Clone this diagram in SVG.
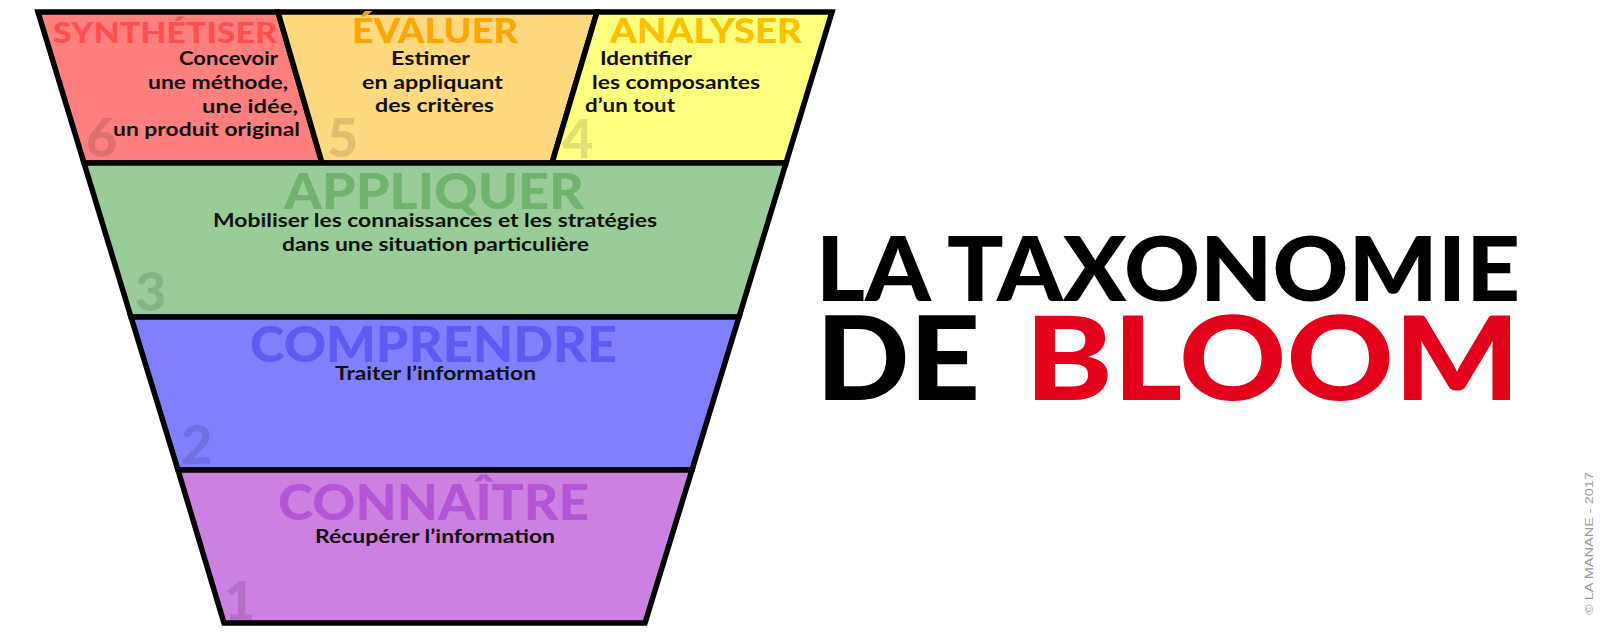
<svg xmlns="http://www.w3.org/2000/svg" width="1600" height="636" viewBox="0 0 1600 636">
<style>
.lay{stroke:#000;stroke-width:5.5;stroke-linejoin:miter}
.hd{font-family:Lato,"Liberation Sans",sans-serif;font-weight:900}
.bd{font-family:Lato,"Liberation Sans",sans-serif;font-weight:700;font-size:18px;fill:#111}
.num{font-family:Lato,"Liberation Sans",sans-serif;font-weight:900;font-size:54px;fill:#000;fill-opacity:0.12}
.ttl{font-family:Lato,"Liberation Sans",sans-serif;font-weight:900}
</style>
<rect width="1600" height="636" fill="#fff"/>
<g id="synthetiser">
<polygon class="lay" points="38,12 278,12 322,163 84,163" fill="#ff7f7f"/>
<text class="num" x="86" y="157">6</text>
<text class="hd" x="53" y="43" font-size="28" fill="#ff4f4f" textLength="224" lengthAdjust="spacingAndGlyphs">SYNTHÉTISER</text>
<g class="bd" text-anchor="end">
<text x="278" y="65" textLength="99" lengthAdjust="spacingAndGlyphs">Concevoir</text>
<text x="288" y="89" textLength="140" lengthAdjust="spacingAndGlyphs">une méthode,</text>
<text x="298" y="113" textLength="96" lengthAdjust="spacingAndGlyphs">une idée,</text>
<text x="300" y="136" textLength="187" lengthAdjust="spacingAndGlyphs">un produit original</text>
</g>
</g>
<g id="evaluer">
<polygon class="lay" points="278,12 597,12 552,163 322,163" fill="#ffd980"/>
<text class="num" x="327" y="157">5</text>
<text class="hd" x="352" y="43" font-size="34" fill="#ffa500" textLength="166" lengthAdjust="spacingAndGlyphs">ÉVALUER</text>
<g class="bd">
<text x="391" y="65" textLength="79" lengthAdjust="spacingAndGlyphs">Estimer</text>
<text x="362" y="89" textLength="141" lengthAdjust="spacingAndGlyphs">en appliquant</text>
<text x="375" y="112" textLength="119" lengthAdjust="spacingAndGlyphs">des critères</text>
</g>
</g>
<g id="analyser">
<polygon class="lay" points="597,12 832,12 786,163 552,163" fill="#ffff80"/>
<text class="num" x="562" y="158">4</text>
<text class="hd" x="610" y="43" font-size="34" fill="#ffc000" textLength="192" lengthAdjust="spacingAndGlyphs">ANALYSER</text>
<g class="bd">
<text x="600" y="65" textLength="92" lengthAdjust="spacingAndGlyphs">Identifier</text>
<text x="592" y="89" textLength="168" lengthAdjust="spacingAndGlyphs">les composantes</text>
<text x="585" y="112" textLength="90" lengthAdjust="spacingAndGlyphs">d’un tout</text>
</g>
</g>
<g id="appliquer">
<polygon class="lay" points="84,163 786,163 739,317 131,317" fill="#99cc99"/>
<text class="num" x="135" y="311">3</text>
<text class="hd" x="284" y="209" font-size="50" fill="#70b36f" textLength="300" lengthAdjust="spacingAndGlyphs">APPLIQUER</text>
<g class="bd">
<text x="213" y="227" textLength="444" lengthAdjust="spacingAndGlyphs">Mobiliser les connaissances et les stratégies</text>
<text x="282" y="251" textLength="307" lengthAdjust="spacingAndGlyphs">dans une situation particulière</text>
</g>
</g>
<g id="comprendre">
<polygon class="lay" points="131,317 739,317 692,470 178,470" fill="#8080ff"/>
<text class="num" x="181" y="464">2</text>
<text class="hd" x="250" y="362" font-size="50" fill="#5c5cf2" textLength="367" lengthAdjust="spacingAndGlyphs">COMPRENDRE</text>
<text class="bd" x="335" y="380" textLength="201" lengthAdjust="spacingAndGlyphs">Traiter l’information</text>
</g>
<g id="connaitre">
<polygon class="lay" points="178,470 692,470 645,623 224,623" fill="#cc80e2"/>
<text class="num" x="224" y="620">1</text>
<text class="hd" x="278" y="520" font-size="49" fill="#b355d6" textLength="311" lengthAdjust="spacingAndGlyphs">CONNAÎTRE</text>
<text class="bd" x="315" y="543" textLength="240" lengthAdjust="spacingAndGlyphs">Récupérer l’information</text>
</g>
<g id="connectors"></g>
<g id="title">
<text class="ttl" x="816" y="301" font-size="89" fill="#000" textLength="704" lengthAdjust="spacingAndGlyphs">LA TAXONOMIE</text>
<text class="ttl" x="816" y="400" font-size="117" fill="#000" textLength="164" lengthAdjust="spacingAndGlyphs">DE</text>
<text class="ttl" x="1025" y="400" font-size="117" fill="#e3001b" textLength="495" lengthAdjust="spacingAndGlyphs">BLOOM</text>
</g>
<text id="copyright" transform="translate(1593,615) rotate(-90)" font-family="'Liberation Sans',Arial,sans-serif" font-size="11" fill="#999" textLength="143" lengthAdjust="spacingAndGlyphs">© LA MANANE - 2017</text>
</svg>
